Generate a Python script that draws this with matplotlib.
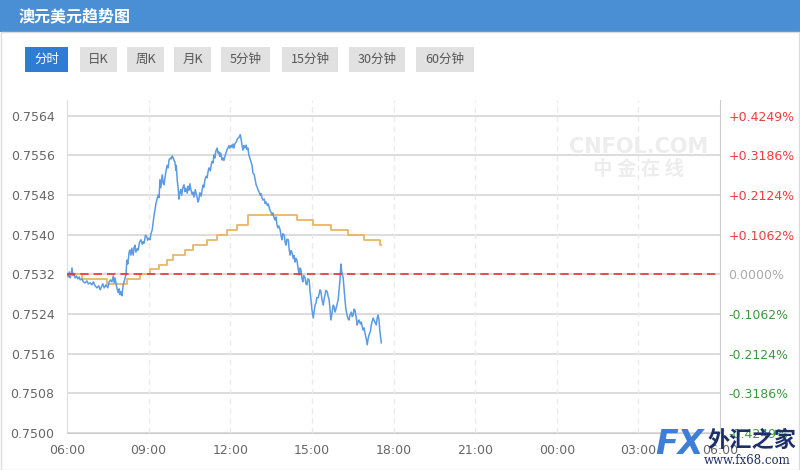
import matplotlib.pyplot as plt
from matplotlib.patches import Rectangle

plt.rcParams['font.family'] = ['DejaVu Sans', 'Noto Sans CJK SC']

# 分时数据 (分钟, 自 06:00 起)
price_minutes = [
    0, 3, 5, 7, 9, 11, 13, 15, 18, 21, 24, 27, 29, 33, 36, 40, 44, 47, 51, 55, 58,
    62, 66, 70, 73, 76, 79, 82, 86, 90, 93, 96, 99, 102, 104, 106, 109, 111, 113,
    115, 117, 119, 121, 124, 127, 130,
    132, 134, 137, 139, 141, 143, 146, 148, 150, 152, 155, 157, 160, 163, 166, 168,
    170, 173, 176, 178, 180, 183, 185, 188, 190, 192, 194, 196, 198, 201, 203, 205,
    207, 210, 212, 214, 216, 218, 221, 223, 225, 228, 230, 232, 234, 236, 238, 240,
    241, 243, 245, 247, 249, 251, 253, 255, 258, 260, 262, 265, 267, 269, 271, 273,
    276, 278, 280, 283, 285, 287, 289, 291, 293, 296, 298, 300, 302, 304, 307, 309,
    311, 313, 316, 318, 320, 322, 324, 326, 328, 331, 333, 335, 337, 339, 342, 344,
    346, 349, 351, 353, 355, 357, 359, 362, 364, 366, 368, 370, 373, 375, 377, 379,
    382, 384, 386, 388, 390, 392, 395, 397, 399, 401, 404, 406, 408, 410, 413, 415,
    417, 419, 421, 424, 426, 428, 430, 432, 435, 437, 439, 442, 444, 446, 448, 450,
    452, 454, 457, 459, 461, 463, 465, 467, 470, 472, 474, 476, 479, 481, 483, 485,
    488, 490, 492, 494, 496, 499, 501, 503, 505, 507, 510, 512, 514, 516, 518, 520,
    522, 525, 527, 529, 531, 534, 536, 538, 540, 543, 545, 547, 549, 551, 554, 556,
    558, 560, 562, 565, 567, 569, 571, 574, 576, 578, 580, 582, 584, 587, 589, 591,
    593, 596, 598, 600, 602, 604, 606, 609, 611, 613, 615, 618, 620, 622, 624, 627,
    629, 631, 633, 635, 638, 640, 642, 644, 647, 649, 651, 653, 655, 657, 660, 662,
    664, 666, 669, 671, 673, 675, 677, 680, 682, 684, 686, 688, 690, 693]
prices = [
    0.75321, 0.75315, 0.75325, 0.75313, 0.75320, 0.75333, 0.75318, 0.75322, 0.75313,
    0.75317, 0.75311, 0.75315, 0.75309, 0.75311, 0.75305, 0.75303, 0.75307, 0.75301,
    0.75303, 0.75299, 0.75305, 0.75297, 0.75293, 0.75297, 0.75289, 0.75295, 0.75301,
    0.75293, 0.75299, 0.75293, 0.75305, 0.75309, 0.75305, 0.75317, 0.75303, 0.75313,
    0.75297, 0.75289, 0.75283, 0.75291, 0.75279, 0.75285, 0.75277, 0.75299, 0.75309,
    0.75319,
    0.75349, 0.75341, 0.75365, 0.75369, 0.75359, 0.75373, 0.75359, 0.75375, 0.75379,
    0.75365, 0.75372, 0.75369, 0.75385, 0.75390, 0.75381, 0.75386, 0.75383, 0.75399,
    0.75396, 0.75389, 0.75393, 0.75390, 0.75402, 0.75410, 0.75425, 0.75440, 0.75450,
    0.75462, 0.75470, 0.75480, 0.75475, 0.75511, 0.75495, 0.75521, 0.75505, 0.75501,
    0.75515, 0.75527, 0.75540, 0.75535, 0.75551, 0.75555, 0.75553, 0.75559, 0.75556,
    0.75550, 0.75547, 0.75530, 0.75540, 0.75511, 0.75495, 0.75472, 0.75486, 0.75491,
    0.75480, 0.75494, 0.75501, 0.75487, 0.75494, 0.75484, 0.75498, 0.75490, 0.75503,
    0.75492, 0.75482, 0.75486, 0.75476, 0.75491, 0.75482, 0.75475, 0.75466, 0.75472,
    0.75485, 0.75478, 0.75491, 0.75500, 0.75496, 0.75511, 0.75518, 0.75515, 0.75527,
    0.75535, 0.75529, 0.75541, 0.75548, 0.75545, 0.75561, 0.75555, 0.75568, 0.75575,
    0.75565, 0.75567, 0.75558, 0.75565, 0.75551, 0.75555, 0.75550, 0.75561, 0.75566,
    0.75572, 0.75575, 0.75580, 0.75575, 0.75581, 0.75576, 0.75583, 0.75575, 0.75583,
    0.75587, 0.75592, 0.75595, 0.75596, 0.75602, 0.75593, 0.75580, 0.75571, 0.75580,
    0.75575, 0.75581, 0.75572, 0.75575, 0.75561, 0.75552, 0.75547, 0.75540, 0.75525,
    0.75521, 0.75511, 0.75501, 0.75497, 0.75491, 0.75486, 0.75480, 0.75483, 0.75475,
    0.75470, 0.75472, 0.75463, 0.75466, 0.75459, 0.75462, 0.75454, 0.75449, 0.75445,
    0.75440, 0.75444, 0.75433, 0.75430, 0.75436, 0.75420, 0.75414, 0.75418, 0.75410,
    0.75398, 0.75390, 0.75402, 0.75400, 0.75385, 0.75379, 0.75391, 0.75390, 0.75370,
    0.75359, 0.75368, 0.75365, 0.75352, 0.75358, 0.75345, 0.75352, 0.75349, 0.75330,
    0.75319, 0.75333, 0.75329, 0.75312, 0.75305, 0.75318, 0.75313, 0.75301, 0.75299,
    0.75311, 0.75309, 0.75285, 0.75269, 0.75250, 0.75232, 0.75245, 0.75258, 0.75262,
    0.75273, 0.75273, 0.75281, 0.75289, 0.75285, 0.75271, 0.75258, 0.75270, 0.75279,
    0.75288, 0.75285, 0.75275, 0.75269, 0.75250, 0.75228, 0.75240, 0.75258, 0.75255,
    0.75244, 0.75250, 0.75262, 0.75269, 0.75290, 0.75309, 0.75341, 0.75325, 0.75313,
    0.75290, 0.75269, 0.75250, 0.75236, 0.75230, 0.75228, 0.75238, 0.75244, 0.75235,
    0.75238, 0.75250, 0.75248, 0.75232, 0.75218, 0.75225, 0.75228, 0.75220, 0.75224,
    0.75215, 0.75208, 0.75212, 0.75202, 0.75190, 0.75178, 0.75190, 0.75198, 0.75205,
    0.75218, 0.75225, 0.75232, 0.75228, 0.75222, 0.75218, 0.75232, 0.75238, 0.75228,
    0.75205, 0.75182]

# 均价线 (阶梯)
avg_minutes = [0, 33, 88, 132, 161, 183, 203, 221, 234, 260, 278, 309, 331, 353,
               375, 399, 507, 543, 582, 620, 655, 690, 693]
avg_prices = [0.7532, 0.7531, 0.7530, 0.7531, 0.7532, 0.7533, 0.7534, 0.7535, 0.7536,
              0.7537, 0.7538, 0.7539, 0.7540, 0.7541, 0.7542, 0.7544, 0.7543, 0.7542,
              0.7541, 0.7540, 0.7539, 0.7538, 0.7538]

prev_close = 0.7532

y_ticks = [0.7500, 0.7508, 0.7516, 0.7524, 0.7532, 0.7540, 0.7548, 0.7556, 0.7564]
pct_labels = ['-0.4249%', '-0.3186%', '-0.2124%', '-0.1062%', '0.0000%',
              '+0.1062%', '+0.2124%', '+0.3186%', '+0.4249%']
x_ticks = [0, 180, 360, 540, 720, 900, 1080, 1260, 1440]
x_labels = ['06:00', '09:00', '12:00', '15:00', '18:00', '21:00', '00:00', '03:00', '06:00']

buttons = ['分时', '日K', '周K', '月K', '5分钟', '15分钟', '30分钟', '60分钟']
button_x = [25, 80, 127, 174, 221, 282, 349, 416]
button_w = [43, 37, 37, 37, 49, 56, 56, 58]

W, H = 800, 470
fig = plt.figure(figsize=(8, 4.7), dpi=100)
fig.patch.set_facecolor('white')

# 顶部标题栏
fig.patches.append(Rectangle((0, 1 - 32 / H), 1, 32 / H, transform=fig.transFigure,
                             facecolor='#4a8fd3', edgecolor='none'))
fig.text(19 / W, 1 - 16 / H, '澳元美元趋势图', color='white', fontsize=11.5,
         fontweight='bold', va='center', ha='left', family=['Noto Sans CJK SC'])
fig.patches.append(Rectangle((1 / W, 0), 1 - 2 / W, 1 - 32 / H, transform=fig.transFigure,
                             facecolor='none', edgecolor='#dddddd', lw=1))

# 按钮
for i, b in enumerate(buttons):
    selected = i == 0
    fig.patches.append(Rectangle((button_x[i] / W, 1 - 72 / H), button_w[i] / W, 25 / H,
                                 transform=fig.transFigure,
                                 facecolor='#2f7cd3' if selected else '#e1e1e1',
                                 edgecolor='none'))
    fig.text((button_x[i] + button_w[i] / 2) / W, 1 - 59.5 / H, b,
             color='white' if selected else '#555555', fontsize=9,
             ha='center', va='center', family=['Noto Sans CJK SC', 'DejaVu Sans'])

ax = fig.add_axes([67 / W, 37 / H, 653 / W, 333 / H])
ax.set_xlim(0, 1440)
ax.set_ylim(0.7500, 0.75672)

ax.plot(price_minutes, prices, color='#5b9be3', lw=1.1, zorder=4)
ax.plot(avg_minutes, avg_prices, color='#e8b567', lw=1.3, drawstyle='steps-post', zorder=3)
ax.axhline(prev_close, color='#e53535', lw=1.2, ls=(0, (5, 3)), zorder=5)

ax.set_yticks(y_ticks)
ax.set_yticklabels([f'{v:.4f}' for v in y_ticks])
ax.set_xticks(x_ticks)
ax.set_xticklabels(x_labels)
ax.grid(axis='y', color='#d9d9d9', lw=1.3)
for t in x_ticks[1:-1]:
    ax.axvline(t, color='#ebebeb', lw=1, ls=(0, (4, 3)), zorder=1)
ax.set_axisbelow(True)
ax.tick_params(length=0, labelsize=9, colors='#666666')
ax.tick_params(axis='y', pad=9)
ax.tick_params(axis='x', pad=8)
ax.spines['top'].set_visible(False)
ax.spines['left'].set_color('#dddddd')
ax.spines['bottom'].set_color('#cccccc')
ax.spines['right'].set_color('#cccccc')

ax2 = ax.twinx()
ax2.set_ylim(ax.get_ylim())
ax2.set_yticks(y_ticks)
ax2.set_yticklabels(pct_labels)
ax2.tick_params(length=0, labelsize=9, pad=6)
for lbl, v in zip(ax2.get_yticklabels(), y_ticks):
    if v > prev_close:
        lbl.set_color('#f03c3c')
    elif v < prev_close:
        lbl.set_color('#3a9a3a')
    else:
        lbl.set_color('#aaaaaa')
for s in ax2.spines.values():
    s.set_visible(False)

# 水印
ax.text(0.875, 0.86, 'CNFOL.COM', transform=ax.transAxes, fontsize=15, fontweight='bold',
        color='#ededed', ha='center', va='center', zorder=0)
ax.text(0.875, 0.79, '中 金 在 线', transform=ax.transAxes, fontsize=14, fontweight='bold',
        color='#ededed', ha='center', va='center', zorder=0, family=['Noto Sans CJK SC'])
fig.text(655 / W, 1 - 444 / H, 'FX', fontsize=24, fontweight='bold', color='#3d7fd6',
         ha='left', va='center', style='italic')
fig.text(708 / W, 1 - 440 / H, '外汇之家', fontsize=16, fontweight='bold', color='#1d2f6b',
         ha='left', va='center', family=['Noto Sans CJK SC'])
fig.text(704 / W, 1 - 461 / H, 'www.fx68.com', fontsize=8.5, color='#1d2f6b',
         ha='left', va='center', family=['DejaVu Serif'])

fig.savefig('out.png', dpi=100)
